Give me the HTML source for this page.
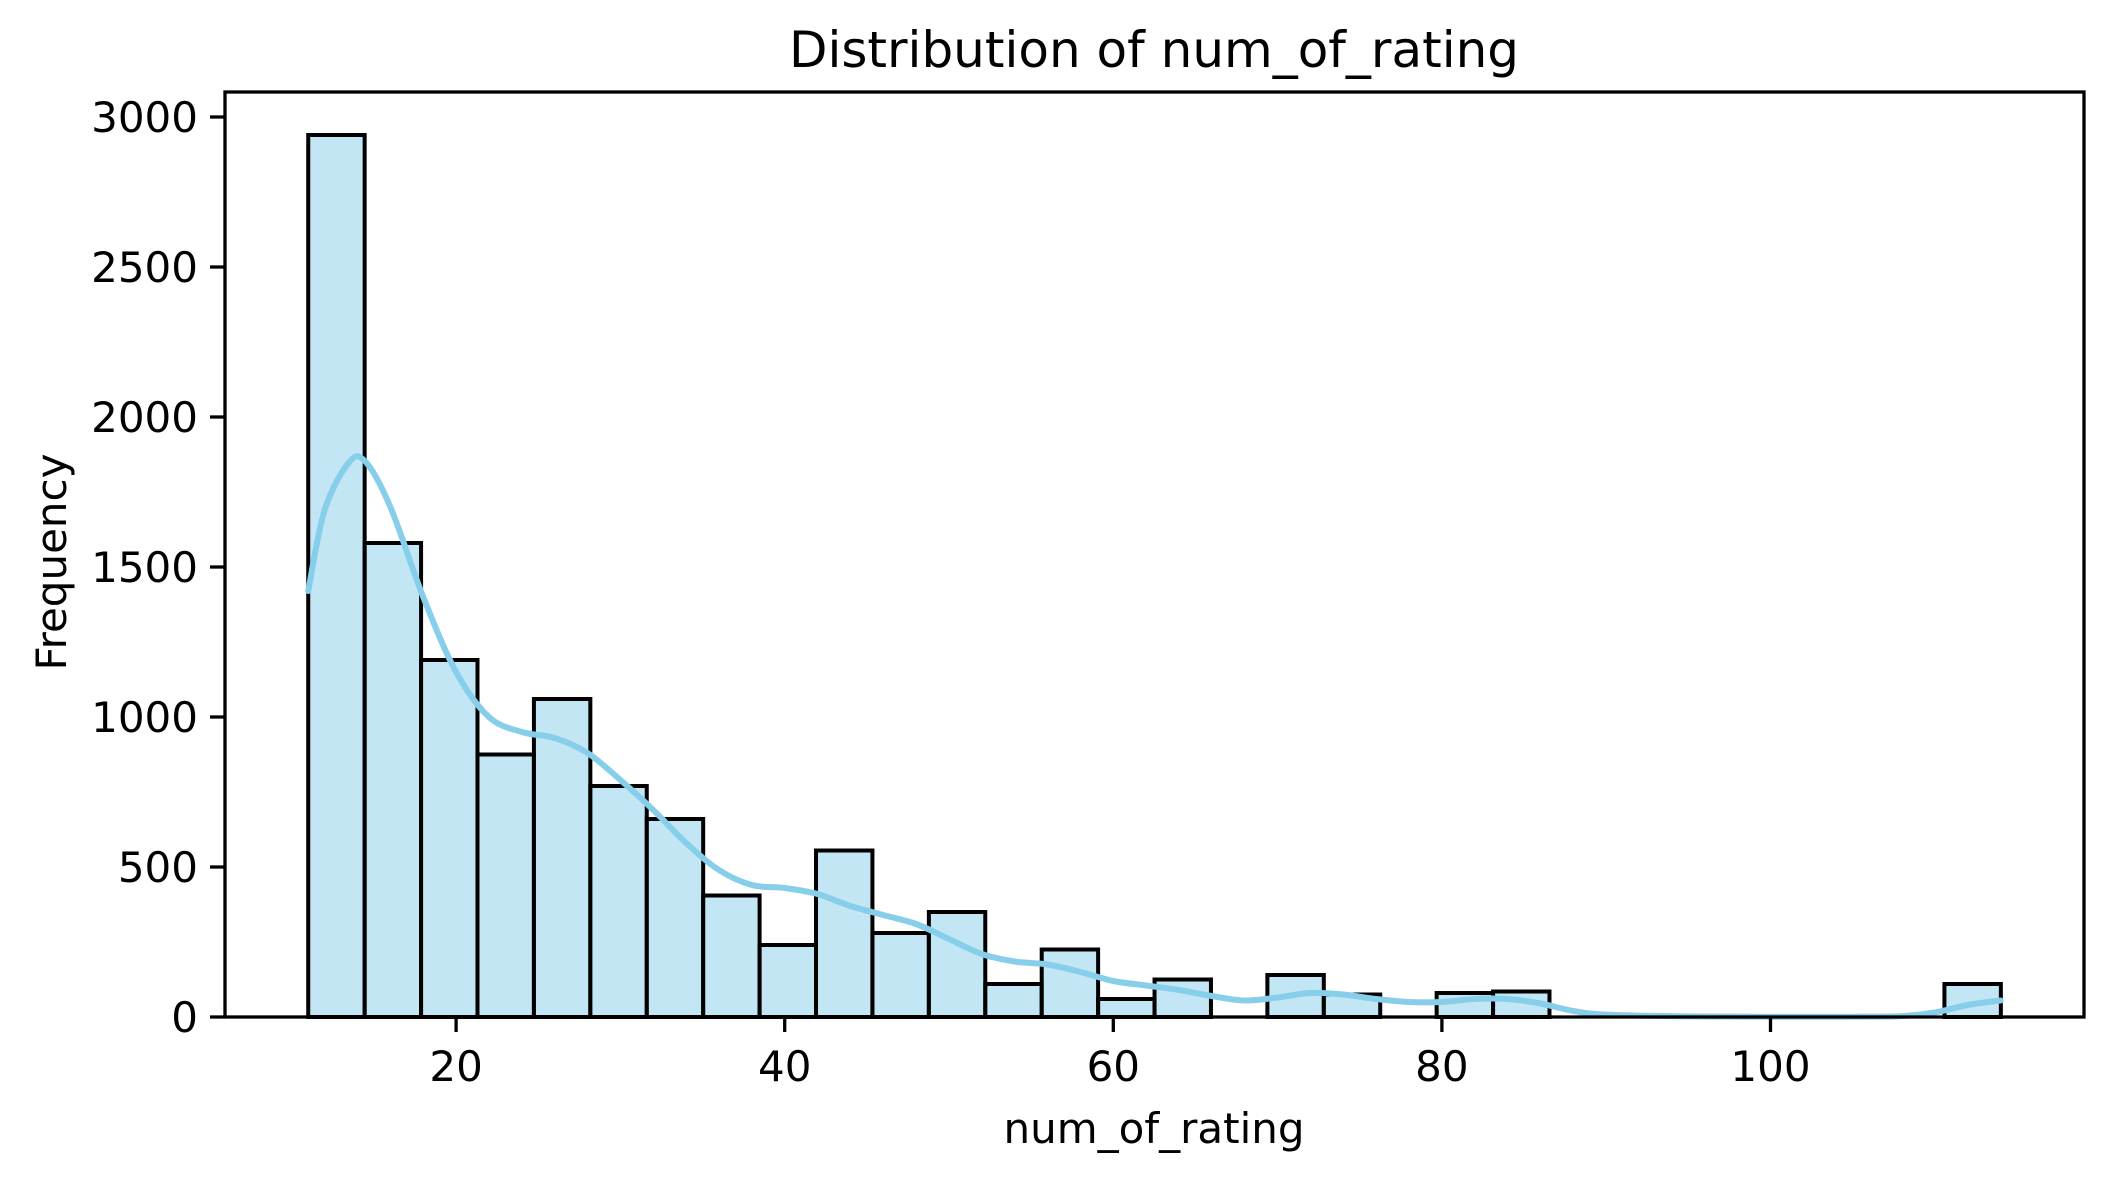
<!DOCTYPE html>
<html><head><meta charset="utf-8"><style>
body{margin:0;background:#fff}
svg{display:block;font-family:"DejaVu Sans","Liberation Sans",sans-serif}
</style></head><body>
<svg id="chart" width="2113" height="1177" viewBox="0 0 2113 1177">
<rect width="2113" height="1177" fill="#fff"/>
<g id="bars"></g>
<path id="kde" fill="none" stroke="#87ceeb" stroke-width="6" stroke-linejoin="round" stroke-linecap="round"/>
<g id="axes"></g>
<text x="1154" y="67" font-size="50" text-anchor="middle">Distribution of num_of_rating</text>
<text x="1154" y="1143" font-size="42" text-anchor="middle">num_of_rating</text>
<text x="0" y="0" font-size="42" text-anchor="middle" transform="translate(66,562) rotate(-90)">Frequency</text>
</svg>
<script>
const binStart = 11;
const binWidth = 3.434;
const counts = [2940,1580,1190,875,1060,770,660,405,240,555,280,350,110,225,60,125,0,140,75,0,80,85,0,0,0,0,0,0,0,110];
const kdeX = [11,12,13.5,14.5,16,18,20,22,24,26,28,30,32,34,36,38,40,42,44,46,48,50,52,54,56,58,60,62,64,66,68,70,72,74,76,78,80,82,84,86,88,90,95,100,105,108,110,112,114];
const kdeY = [1420,1690,1850,1850,1700,1400,1150,1000,950,930,880,790,690,580,490,440,430,410,370,340,310,260,210,185,175,150,120,105,90,70,55,65,80,75,60,50,50,60,60,45,20,8,2,1,1,3,15,40,55];
const xTicks = [20,40,60,80,100];
const yTicks = [0,500,1000,1500,2000,2500,3000];

const NS='http://www.w3.org/2000/svg';
const L=225,R=2084,T=92,B=1017;
const sx=v=>127.5+v*16.43;
const sy=v=>1017-v*0.3;
const bars=document.getElementById('bars');
counts.forEach((c,i)=>{
  if(c<=0) return;
  const r=document.createElementNS(NS,'rect');
  const x0=sx(binStart+i*binWidth), x1=sx(binStart+(i+1)*binWidth);
  r.setAttribute('x',x0);r.setAttribute('y',sy(c));
  r.setAttribute('width',x1-x0);r.setAttribute('height',sy(0)-sy(c));
  r.setAttribute('fill','rgba(135,206,235,0.5)');r.setAttribute('stroke','#000');r.setAttribute('stroke-width','4');
  
  
  bars.appendChild(r);
});
const pts=kdeX.map((x,i)=>[sx(x),sy(kdeY[i])]);
let d='M'+pts[0][0]+','+pts[0][1];
for(let i=0;i<pts.length-1;i++){
  const p0=pts[Math.max(0,i-1)],p1=pts[i],p2=pts[i+1],p3=pts[Math.min(pts.length-1,i+2)];
  d+=' C'+(p1[0]+(p2[0]-p0[0])/6)+','+(p1[1]+(p2[1]-p0[1])/6)+' '+(p2[0]-(p3[0]-p1[0])/6)+','+(p2[1]-(p3[1]-p1[1])/6)+' '+p2[0]+','+p2[1];
}
document.getElementById('kde').setAttribute('d',d);
const ax=document.getElementById('axes');
const fr=document.createElementNS(NS,'rect');
fr.setAttribute('x',L);fr.setAttribute('y',T);fr.setAttribute('width',R-L);fr.setAttribute('height',B-T);
fr.setAttribute('fill','none');fr.setAttribute('stroke','#000');fr.setAttribute('stroke-width','3.3');


ax.appendChild(fr);
xTicks.forEach(v=>{
  const l=document.createElementNS(NS,'line');
  l.setAttribute('x1',sx(v));l.setAttribute('x2',sx(v));l.setAttribute('y1',B);l.setAttribute('y2',B+15);
  l.setAttribute('stroke','#000');l.setAttribute('stroke-width','3.3');
  
  
  ax.appendChild(l);
  const t=document.createElementNS(NS,'text');
  t.setAttribute('x',sx(v));t.setAttribute('y',B+64);t.setAttribute('font-size','42');t.setAttribute('text-anchor','middle');
  t.textContent=v;
  
  
  ax.appendChild(t);
});
yTicks.forEach(v=>{
  const l=document.createElementNS(NS,'line');
  l.setAttribute('x1',L-15);l.setAttribute('x2',L);l.setAttribute('y1',sy(v));l.setAttribute('y2',sy(v));
  l.setAttribute('stroke','#000');l.setAttribute('stroke-width','3.3');
  
  
  ax.appendChild(l);
  const t=document.createElementNS(NS,'text');
  t.setAttribute('x',L-27);t.setAttribute('y',sy(v)+15);t.setAttribute('font-size','42');t.setAttribute('text-anchor','end');
  t.textContent=v;
  
  
  ax.appendChild(t);
});
</script>
</body></html>
